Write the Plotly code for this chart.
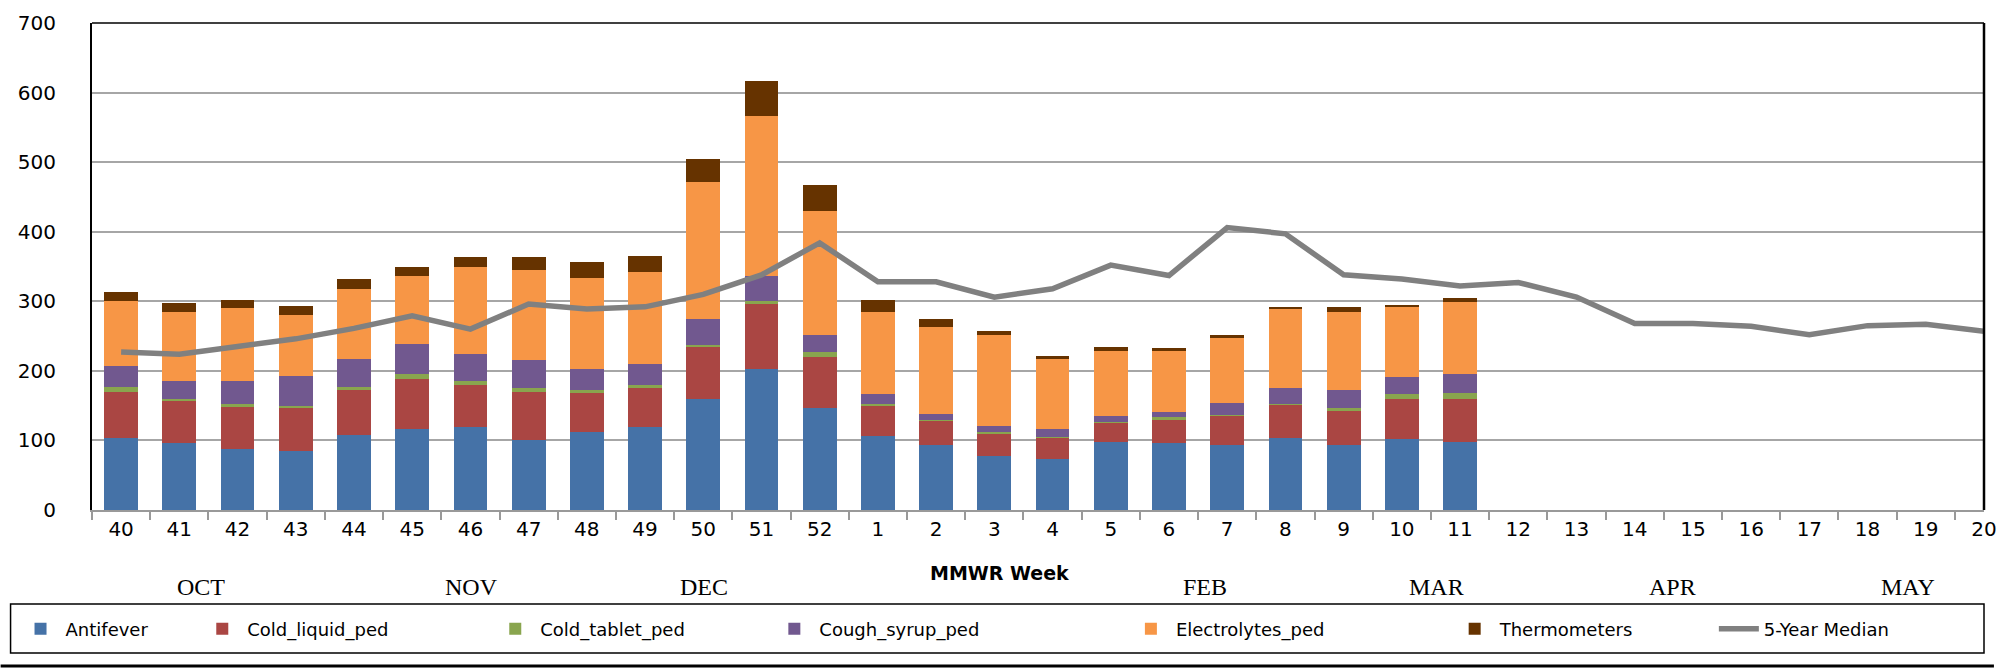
import plotly.graph_objects as go

weeks = [str(w) for w in list(range(40, 53)) + list(range(1, 21))]

antifever = [104, 96, 87, 85, 108, 116, 119, 101, 112, 119, 160, 202, 147,
             106, 94, 77, 74, 98, 96, 94, 104, 94, 102, 98]
cold_liquid = [66, 60, 61, 61, 65, 72, 61, 69, 56, 57, 74, 94, 73,
               44, 34, 32, 30, 28, 34, 42, 47, 49, 58, 62]
cold_tablet = [7, 4, 4, 4, 4, 7, 5, 5, 4, 4, 3, 4, 7,
               2, 1, 3, 1, 0.5, 3, 0.5, 1, 4, 7, 8]
cough_syrup = [30, 25, 33, 43, 40, 43, 39, 40, 30, 30, 37, 36, 24,
               15, 9, 9, 11, 9, 8, 17, 24, 26, 24, 27]
electrolytes = [93, 100, 106, 88, 101, 98, 125, 130, 132, 132, 197, 230, 179,
                117, 125, 130, 101, 93, 87, 94, 114, 112, 102, 104]
thermometers = [13, 13, 11, 12, 14, 14, 14, 18, 22, 23, 33, 50, 37,
                18, 12, 7, 5, 6, 5, 4, 2, 7, 2, 6]
median_5yr = [227, 224, 235, 246, 261, 279, 260, 296, 289, 292, 310, 338, 384,
              328, 328, 306, 318, 352, 337, 406, 397, 338, 332, 322, 327,
              306, 268, 268, 264, 252, 265, 267, 257]

series = [
    ("Antifever", antifever, "#4572A7"),
    ("Cold_liquid_ped", cold_liquid, "#AA4643"),
    ("Cold_tablet_ped", cold_tablet, "#89A54E"),
    ("Cough_syrup_ped", cough_syrup, "#71588F"),
    ("Electrolytes_ped", electrolytes, "#F79646"),
    ("Thermometers", thermometers, "#663300"),
]

months = ["OCT", "NOV", "DEC", "FEB", "MAR", "APR", "MAY"]
month_px = [202, 474, 708, 1213, 1446, 1683, 1920]

# layout geometry (pixels)
W, H = 2007, 670
L, R, T, B = 92, 10, 23, 160
PW = W - L - R
PH = H - T - B


def px_x(px):
    return (px - L) / PW


def px_y(py):
    return (H - B - py) / PH


fig = go.Figure()
legend_px = [15, 198, 493, 774, 1133, 1459, 1725]
for i, (name, vals, col) in enumerate(series):
    lg = "legend" if i == 0 else f"legend{i + 1}"
    fig.add_trace(go.Bar(x=weeks[:len(vals)], y=vals, name=name,
                         marker=dict(color=col, line=dict(width=0)),
                         legend=lg))
fig.add_trace(go.Scatter(x=weeks, y=median_5yr, name="5-Year Median",
                         mode="lines", line=dict(color="#808080", width=5.5),
                         legend="legend7"))

legend_font = dict(family="DejaVu Sans", size=18, color="#000000")
legends = {}
for i, lx in enumerate(legend_px):
    key = "legend" if i == 0 else f"legend{i + 1}"
    legends[key] = dict(x=px_x(lx), y=px_y(629), xanchor="left",
                        yanchor="middle", orientation="h",
                        bgcolor="rgba(0,0,0,0)", font=legend_font,
                        itemwidth=40, tracegroupgap=0)

annotations = [dict(text=m, x=px_x(p), y=px_y(587), xref="paper", yref="paper",
                    showarrow=False, xanchor="center", yanchor="middle",
                    font=dict(family="Liberation Serif", size=24, color="#000"))
               for m, p in zip(months, month_px)]
annotations.append(dict(text="<b>MMWR Week</b>", x=px_x(1006), y=px_y(573),
                        xref="paper", yref="paper", showarrow=False,
                        xanchor="center", yanchor="middle",
                        font=dict(family="DejaVu Sans", size=19, color="#000")))

shapes = [
    dict(type="line", xref="paper", yref="paper", x0=0, x1=1, y0=1, y1=1,
         line=dict(color="#000", width=1.5)),
    dict(type="line", xref="paper", yref="paper", x0=1, x1=1, y0=0, y1=1,
         line=dict(color="#000", width=2.5)),
    dict(type="rect", xref="paper", yref="paper",
         x0=px_x(10), x1=px_x(1997), y0=px_y(604), y1=px_y(653),
         line=dict(color="#000", width=1.5), fillcolor="rgba(0,0,0,0)"),
    dict(type="line", xref="paper", yref="paper",
         x0=px_x(0), x1=px_x(W), y0=px_y(666), y1=px_y(666),
         line=dict(color="#000", width=3)),
]

fig.update_layout(
    width=W, height=H, autosize=False,
    margin=dict(l=L, r=R, t=T, b=B, pad=0),
    barmode="stack", bargap=0.42,
    plot_bgcolor="#FFFFFF", paper_bgcolor="#FFFFFF",
    showlegend=True,
    annotations=annotations, shapes=shapes,
    xaxis=dict(type="category", categoryorder="array", categoryarray=weeks,
               showgrid=False, showline=True, linecolor="#999999", linewidth=2,
               ticks="outside", ticklen=8, tickcolor="#999999", tickwidth=2,
               tickson="boundaries",
               tickfont=dict(family="DejaVu Sans", size=20, color="#000"),
               fixedrange=True),
    yaxis=dict(range=[0, 700], dtick=100, showgrid=True, gridcolor="#A6A6A6",
               gridwidth=1.5, showline=True, linecolor="#000", linewidth=2,
               ticks="", zeroline=False, ticklabelstandoff=30,
               tickfont=dict(family="DejaVu Sans", size=20, color="#000"),
               fixedrange=True),
    **legends,
)

fig.write_html("out.html",
               config={"displayModeBar": False},
               post_script="document.body.style.margin='0';"
                           "document.body.style.overflow='hidden';")
